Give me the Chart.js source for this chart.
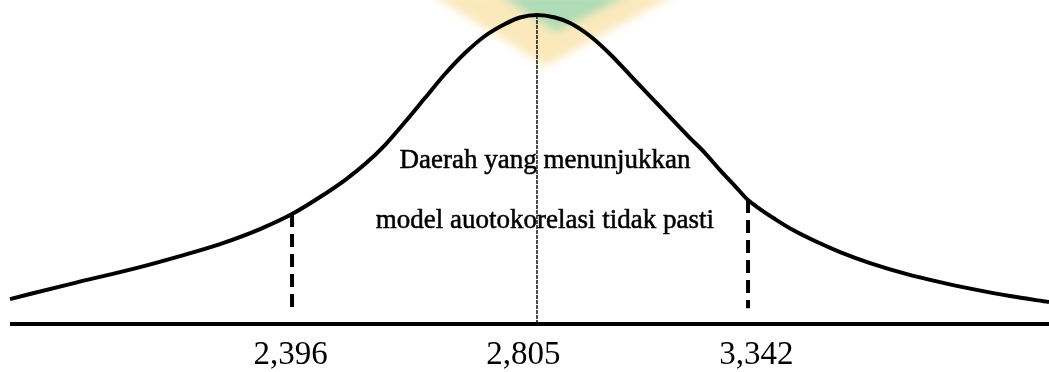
<!DOCTYPE html>
<html>
<head>
<meta charset="utf-8">
<script src="https://cdn.jsdelivr.net/npm/chart.js@4.4.0/dist/chart.umd.min.js"></script>
<style>
    html, body { margin: 0; padding: 0; background: #fff; }
    #wrap { width: 1049px; height: 372px; }
</style>
</head>
<body>
<div id="wrap"><canvas id="kurva"></canvas></div>
<script>
// posisi mendatar 0-100 (lebar gambar), kepadatan relatif 0-100
const curveX = [0.95, 6.67, 13.35, 17.16, 20.97, 24.79, 27.84, 30.51, 32.89, 34.80, 36.70, 38.61, 40.51, 42.42, 44.33, 46.23, 48.14, 49.57, 51.19,
    52.91, 54.34, 56.24, 58.15, 60.06, 61.96, 63.87, 65.78, 67.21, 68.64, 70.07, 71.31, 72.45, 73.88, 75.60, 77.69, 80.08, 82.94, 86.46, 89.61, 92.75, 96.28, 100]
const curveY = [7.72, 12.35, 17.59, 20.99, 24.69, 29.32, 33.95, 39.20, 44.44, 49.38, 55.25, 62.35, 69.75, 77.16, 83.64, 88.89, 92.59, 94.60, 95.37,
    94.60, 92.90, 88.89, 83.33, 76.85, 70.37, 63.89, 57.41, 52.78, 47.53, 42.59, 38.27, 35.49, 32.41, 29.01, 25.62, 22.22, 18.83, 15.43, 12.96, 10.80, 8.64, 6.79]
const yMin = -4.6

// garis putus-putus batas dL dan dU, garis tengah
const dashX = [27.84, 71.31]
const dashBottom = [3.4, 4.9]
const centerX = 51.19

const tickPos = [27.7, 49.9, 72.1]
const tickLabels = ['2,396', '2,805', '3,342']

const noteLines = ['Daerah yang menunjukkan', 'model auotokorelasi tidak pasti']
const noteX = 51.95
const noteY = [48.1, 29.6]

const curveAt = x => curveY[curveX.indexOf(x)]

const datasets = [
    {
        data: curveX.map((x, i) => ({ x: x, y: curveY[i] })),
        borderColor: '#000',
        borderWidth: 4,
        pointRadius: 0,
        cubicInterpolationMode: 'monotone'
    },
    {
        // garis dasar
        data: [{ x: curveX[0], y: 0 }, { x: 100, y: 0 }],
        borderColor: '#000',
        borderWidth: 4,
        pointRadius: 0
    },
    {
        data: [{ x: centerX, y: curveAt(centerX) }, { x: centerX, y: 0 }],
        borderColor: '#111',
        borderWidth: 1.5,
        borderDash: [4, 1],
        pointRadius: 0
    }
]

dashX.forEach((x, i) => {
    datasets.push({
        data: [{ x: x, y: curveAt(x) }, { x: x, y: dashBottom[i] }],
        borderColor: '#000',
        borderWidth: 4,
        borderDash: [13, 7],
        borderCapStyle: 'butt',
        pointRadius: 0
    })
})

const watermark = {
    id: 'watermark',
    beforeDatasetsDraw(chart) {
        const ctx = chart.ctx
        const w = chart.width
        ctx.save()
        ctx.filter = 'blur(4px)'
        ctx.fillStyle = 'rgba(250, 224, 160, 0.7)'
        ctx.beginPath()
        ctx.moveTo(w * 0.41, -6)
        ctx.lineTo(w * 0.52, 66)
        ctx.lineTo(w * 0.645, -6)
        ctx.closePath()
        ctx.fill()
        ctx.fillStyle = 'rgba(150, 215, 180, 0.75)'
        ctx.beginPath()
        ctx.moveTo(w * 0.475, -6)
        ctx.lineTo(w * 0.53, 32)
        ctx.lineTo(w * 0.6, -6)
        ctx.closePath()
        ctx.fill()
        ctx.restore()
    }
}

const notes = {
    id: 'notes',
    afterDatasetsDraw(chart) {
        const ctx = chart.ctx
        const xs = chart.scales.x
        const ys = chart.scales.y
        ctx.save()
        ctx.font = '27px "Liberation Serif"'
        ctx.fillStyle = '#000'
        ctx.strokeStyle = '#000'
        ctx.lineWidth = 0.5
        ctx.textAlign = 'center'
        ctx.textBaseline = 'alphabetic'
        noteLines.forEach((t, i) => {
            const px = xs.getPixelForValue(noteX)
            const py = ys.getPixelForValue(noteY[i])
            ctx.fillText(t, px, py)
            ctx.strokeText(t, px, py)
        })
        ctx.restore()
    }
}

new Chart(document.querySelector('#kurva'), {
    type: 'line',
    data: { datasets: datasets },
    options: {
        responsive: true,
        maintainAspectRatio: false,
        animation: false,
        layout: { padding: 0 },
        plugins: {
            legend: { display: false },
            tooltip: { enabled: false }
        },
        scales: {
            x: {
                type: 'linear',
                min: 0,
                max: 100,
                grid: { display: false, drawTicks: false },
                border: { display: false },
                afterBuildTicks: axis => {
                    axis.ticks = tickPos.map(v => ({ value: v }))
                },
                ticks: {
                    autoSkip: false,
                    maxRotation: 0,
                    padding: 0,
                    color: '#000',
                    font: { family: '"Liberation Serif"', size: 33, lineHeight: 1 },
                    callback: (v, i) => tickLabels[i]
                }
            },
            y: {
                display: false,
                min: yMin,
                max: 100
            }
        }
    },
    plugins: [watermark, notes]
})
</script>
</body>
</html>
